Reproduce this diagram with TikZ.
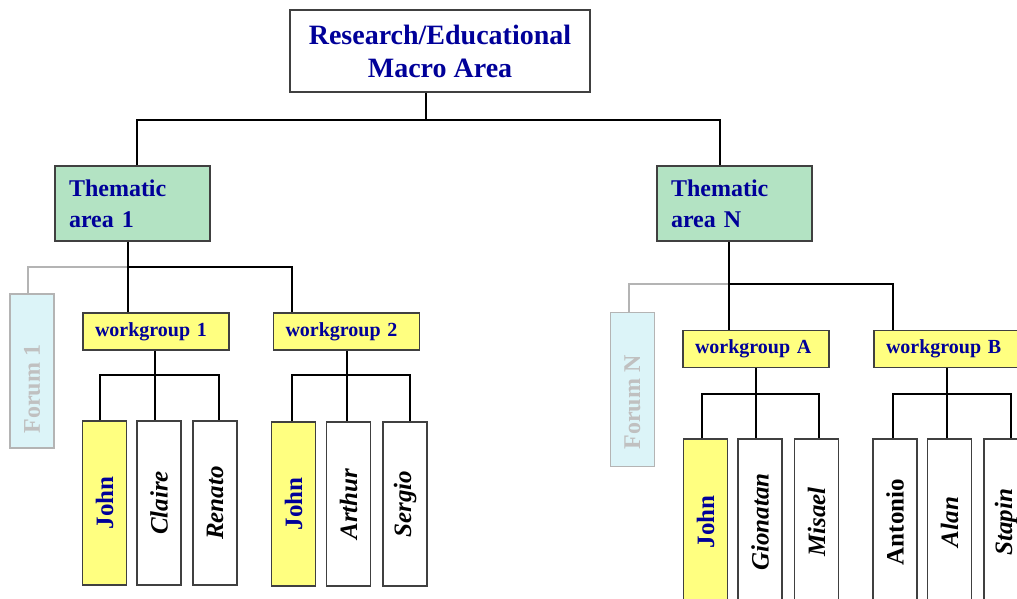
\documentclass[tikz,border=0pt]{standalone}
\usepackage{fontspec}
\setmainfont{Liberation Serif}
\usetikzlibrary{calc}
\definecolor{navy}{HTML}{000099}
\definecolor{themefill}{HTML}{B3E3C3}
\definecolor{wgfill}{HTML}{FFFF80}
\definecolor{forumfill}{HTML}{DCF4F8}
\definecolor{forumline}{HTML}{B4B4B4}
\definecolor{forumtext}{HTML}{C0C0C0}
\definecolor{boxline}{HTML}{404040}
\tikzset{
 base/.style={draw=boxline, line width=1.2pt, inner sep=0pt},
 topbox/.style={base, fill=white, minimum width=300pt, minimum height=82pt, align=center, text=navy, font=\fontsize{28}{33}\selectfont\bfseries},
 theme/.style={base, fill=themefill, text width=127pt, inner xsep=14pt, minimum height=75pt, align=left, text=navy, font=\fontsize{24}{31}\selectfont\bfseries},
 wg/.style={base, fill=wgfill, text width=122pt, inner xsep=12pt, minimum height=37pt, align=left, text=navy, font=\fontsize{20}{24}\selectfont\bfseries},
 forum/.style={draw=forumline, fill=forumfill, line width=1.2pt, minimum width=44pt, minimum height=154pt, inner sep=0pt},
 person/.style={base, fill=white, minimum width=44pt, minimum height=164pt},
 hiperson/.style={person, fill=wgfill},
 pname/.style={rotate=90, inner sep=0pt, font=\fontsize{25}{30}\selectfont\bfseries\itshape},
 pup/.style={rotate=90, inner sep=0pt, font=\fontsize{25}{30}\selectfont\bfseries},
 pjohn/.style={pup, text=navy},
 ftext/.style={rotate=90, inner sep=0pt, text=forumtext, font=\fontsize{24}{28}\selectfont\bfseries},
 conn/.style={line width=2pt, black},
 gconn/.style={line width=2pt, forumline},
}
\begin{document}
\begin{tikzpicture}[x=1pt, y=-1pt]
\useasboundingbox (0,0) rectangle (1017,598);
\clip (0,0) rectangle (1017,598);
% nodes
\node[topbox] (top) at (440,51) {Research/Educational\\Macro Area};
\node[theme] (t1) at (132.5,203.5) {Thematic\\area 1};
\node[theme] (tN) at (734.5,203.5) {Thematic\\area N};
\node[forum] (f1) at (32,371) {};
\node[ftext] at ($(f1.center)+(0,18)$) {Forum 1};
\node[forum] (fN) at (632.5,389.5) {};
\node[ftext] at ($(fN.center)+(0,13)$) {Forum N};
\node[wg] (wg1) at (156,331.5) {workgroup 1};
\node[wg] (wg2) at (346.5,331.5) {workgroup 2};
\node[wg] (wgA) at (756,349) {workgroup A};
\node[wg] (wgB) at (947,349) {workgroup B};
% persons
\node[hiperson] (j1) at (104.5,503) {};
\node[pjohn] at (j1) {John};
\node[person] (claire) at (159,503) {};
\node[pname] at (claire) {Claire};
\node[person] (renato) at (215,503) {};
\node[pname] at (renato) {Renato};
\node[hiperson] (j2) at (293.5,504) {};
\node[pjohn] at (j2) {John};
\node[person] (arthur) at (348.5,504) {};
\node[pname] at (arthur) {Arthur};
\node[person] (sergio) at (405,504) {};
\node[pname] at (sergio) {Sergio};
\node[hiperson, minimum height=166pt] (jA) at (705.5,522) {};
\node[pjohn] at (jA) {John};
\node[person, minimum height=166pt] (gionatan) at (760,522) {};
\node[pname] at (gionatan) {Gionatan};
\node[person, minimum height=166pt] (misael) at (816.5,522) {};
\node[pname] at (misael) {Misael};
\node[person, minimum height=166pt] (antonio) at (895,522) {};
\node[pup] at (antonio) {Antonio};
\node[person, minimum height=166pt] (alan) at (949.5,522) {};
\node[pname] at (alan) {Alan};
\node[person, minimum height=166pt] (stapin) at (1006,522) {};
\node[pname] at (stapin) {Stapin};
% bus coordinates
\coordinate (b0) at (426,120);
\coordinate (b0l) at (137,120);
\coordinate (b0r) at (720,120);
\coordinate (b1) at (128,267);
\coordinate (b1l) at (28,267);
\coordinate (b1r) at (292,267);
\coordinate (b2) at (729,284);
\coordinate (b2l) at (629,284);
\coordinate (b2r) at (893,284);
\coordinate (c1) at (155,375);
\coordinate (c1l) at (100,375);
\coordinate (c1r) at (219,375);
\coordinate (c2) at (347,375);
\coordinate (c2l) at (292,375);
\coordinate (c2r) at (410,375);
\coordinate (c3) at (756,394);
\coordinate (c3l) at (702,394);
\coordinate (c3r) at (819,394);
\coordinate (c4) at (947,394);
\coordinate (c4l) at (893,394);
\coordinate (c4r) at (1011,394);
% connectors
\draw[conn] (top.south -| b0) -- (b0);
\draw[conn] (b0l |- t1.north) -- (b0l) -- (b0r) -- (b0r |- tN.north);
\draw[gconn] (b1l |- f1.north) -- (b1l) -- (b1);
\draw[conn] (b1 |- t1.south) -- (b1 |- wg1.north);
\draw[conn] (b1) -- (b1r) -- (b1r |- wg2.north);
\draw[gconn] (b2l |- fN.north) -- (b2l) -- (b2);
\draw[conn] (b2 |- tN.south) -- (b2 |- wgA.north);
\draw[conn] (b2) -- (b2r) -- (b2r |- wgB.north);
\draw[conn] (c1 |- wg1.south) -- (c1 |- claire.north);
\draw[conn] (c1l |- j1.north) -- (c1l) -- (c1r) -- (c1r |- renato.north);
\draw[conn] (c2 |- wg2.south) -- (c2 |- arthur.north);
\draw[conn] (c2l |- j2.north) -- (c2l) -- (c2r) -- (c2r |- sergio.north);
\draw[conn] (c3 |- wgA.south) -- (c3 |- gionatan.north);
\draw[conn] (c3l |- jA.north) -- (c3l) -- (c3r) -- (c3r |- misael.north);
\draw[conn] (c4 |- wgB.south) -- (c4 |- alan.north);
\draw[conn] (c4l |- antonio.north) -- (c4l) -- (c4r) -- (c4r |- stapin.north);
\end{tikzpicture}
\end{document}
